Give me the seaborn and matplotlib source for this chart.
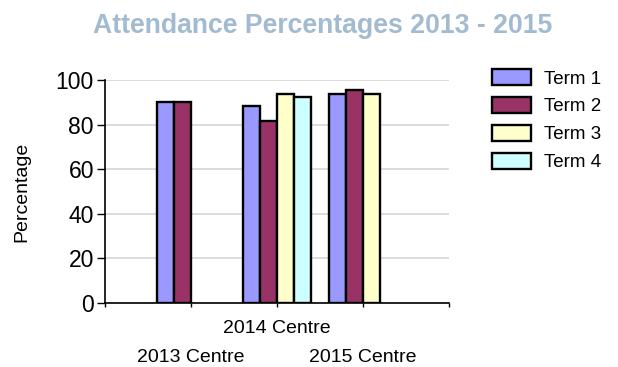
import matplotlib
matplotlib.use("Agg")
import matplotlib.pyplot as plt
import matplotlib.transforms as mtransforms
import seaborn as sns
import pandas as pd

centres = ["2013 Centre", "2014 Centre", "2015 Centre"]
terms = ["Term 1", "Term 2", "Term 3", "Term 4"]
centre_col = ["2013 Centre", "2013 Centre",
              "2014 Centre", "2014 Centre", "2014 Centre", "2014 Centre",
              "2015 Centre", "2015 Centre", "2015 Centre"]
term_col = ["Term 1", "Term 2",
            "Term 1", "Term 2", "Term 3", "Term 4",
            "Term 1", "Term 2", "Term 3"]
values = [90.0, 90.0,
          88.3, 81.7, 93.7, 92.5,
          93.7, 95.4, 93.7]
colors = ["#9999ff", "#993366", "#ffffcc", "#ccffff"]
yticks = [0, 20, 40, 60, 80, 100]

df = pd.DataFrame({"Centre": centre_col, "Term": term_col, "Percentage": values})

sns.set_theme(style="white")
plt.rcParams["font.family"] = ["Liberation Sans", "DejaVu Sans"]
plt.rcParams["text.color"] = "black"
plt.rcParams["axes.labelcolor"] = "black"
plt.rcParams["xtick.color"] = "black"
plt.rcParams["ytick.color"] = "black"

fig = plt.figure(figsize=(6.18, 3.67), dpi=100)
ax = fig.add_axes([105/618, 1 - 303/367, (449 - 105)/618, (303 - 80)/367])

sns.barplot(data=df, x="Centre", y="Percentage", hue="Term",
            order=centres, hue_order=terms, palette=colors, saturation=1,
            edgecolor="black", linewidth=1.7, width=0.8, ax=ax,
            legend=True)

ax.set_xlim(-1, 3)
ax.set_ylim(0, 100)
ax.set_yticks(yticks)
ax.yaxis.grid(True, color="#d9d9d9", linewidth=1.3)
ax.set_axisbelow(True)
for s in ["top", "right"]:
    ax.spines[s].set_visible(False)
for s in ["left", "bottom"]:
    ax.spines[s].set_color("black")
    ax.spines[s].set_linewidth(1.2)

ax.set_xticks([0, 1, 2])
ax.set_xticklabels(centres)
ax.set_xticks([-1, 3], minor=True)
ax.tick_params(axis="x", which="both", direction="out", length=3, width=1,
               bottom=True, pad=9, labelsize=14)
ax.tick_params(axis="y", direction="out", length=6, width=1,
               left=True, pad=2, labelsize=16.5)
# staggered category labels: outer ones on a second row
shift = mtransforms.ScaledTranslation(0, -29/100, fig.dpi_scale_trans)
xlabels = ax.get_xticklabels()
for i in (0, 2):
    xlabels[i].set_transform(xlabels[i].get_transform() + shift)

ax.set_xlabel("")
ax.set_ylabel("Percentage", fontsize=14, labelpad=18)

handles, labels = ax.get_legend_handles_labels()
ax.get_legend().remove()
leg = fig.legend(handles, labels, loc="upper left",
                 bbox_to_anchor=(492/618, 1 - 69/367), bbox_transform=fig.transFigure,
                 frameon=False, fontsize=13.5, handlelength=2.1, handleheight=0.95,
                 labelspacing=0.5, handletextpad=0.7, borderpad=0, borderaxespad=0)
for h in leg.legend_handles:
    h.set_edgecolor("black")
    h.set_linewidth(1.7)

fig.suptitle("Attendance Percentages 2013 - 2015", x=323/618, y=1 - 13/367,
             va="top", fontsize=19.2, fontweight="bold", color="#a3bbd1")

fig.savefig("out.png", dpi=100)
